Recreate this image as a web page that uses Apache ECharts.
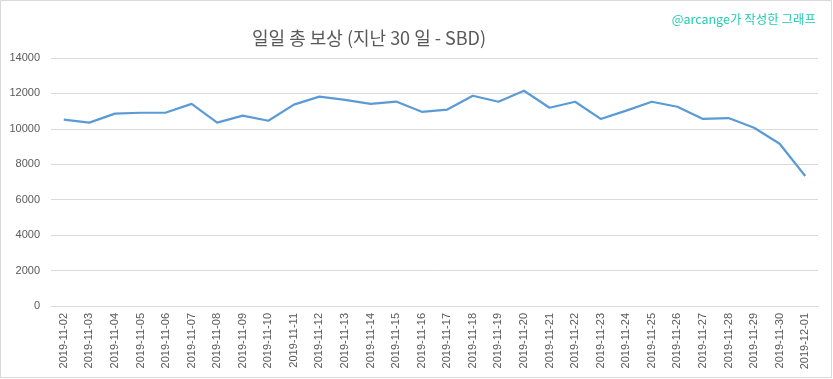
<!DOCTYPE html>
<html><head><meta charset="utf-8">
<script src="https://cdn.jsdelivr.net/npm/echarts@6/dist/echarts.min.js"></script>
<style>html,body{margin:0;padding:0;background:#fff}#c{width:833px;height:379px}</style>
</head><body><div id="c"></div>
<script>
const categories = ["2019-11-02","2019-11-03","2019-11-04","2019-11-05","2019-11-06","2019-11-07","2019-11-08","2019-11-09","2019-11-10","2019-11-11","2019-11-12","2019-11-13","2019-11-14","2019-11-15","2019-11-16","2019-11-17","2019-11-18","2019-11-19","2019-11-20","2019-11-21","2019-11-22","2019-11-23","2019-11-24","2019-11-25","2019-11-26","2019-11-27","2019-11-28","2019-11-29","2019-11-30","2019-12-01"];
const rewards = [10520,10350,10860,10910,10920,11410,10350,10750,10460,11370,11820,11640,11410,11540,10960,11090,11870,11530,12150,11190,11530,10560,11030,11530,11250,10560,10610,10060,9160,7340];
const yTicks = [0,2000,4000,6000,8000,10000,12000,14000];
const titleText = "일일 총 보상 (지난 30 일 - SBD)";
const watermark = "@arcange가 작성한 그래프";

const chart = echarts.init(document.getElementById('c'), null, {renderer:'canvas'});
chart.setOption({
  animation:false,
  backgroundColor:'#fff',
  title:[{text:titleText,left:247,top:24,textStyle:{fontFamily:'Noto Sans CJK KR',fontSize:18,fontWeight:'normal',color:'#595959'}},
         {text:watermark,right:12,top:8,textStyle:{fontFamily:'Noto Sans CJK KR',fontSize:12.5,fontWeight:'normal',color:'#22ccb4'}}],
  graphic:[{type:'rect',shape:{x:0.5,y:0.5,width:831,height:377},style:{fill:'none',stroke:'#d9d9d9',lineWidth:1},silent:true}],
  grid:{left:51,right:15,top:58,bottom:73,containLabel:false},
  xAxis:{type:'category',data:categories,boundaryGap:true,
    axisLine:{lineStyle:{color:'#d9d9d9'}},axisTick:{show:false},
    axisLabel:{rotate:90,interval:0,fontSize:11,color:'#595959',fontFamily:'Liberation Sans',margin:7}},
  yAxis:{type:'value',min:yTicks[0],max:yTicks[yTicks.length-1],interval:2000,
    axisLine:{show:false},axisTick:{show:false},
    splitLine:{lineStyle:{color:'#d9d9d9'}},
    axisLabel:{fontSize:11,color:'#595959',fontFamily:'Liberation Sans',margin:11,formatter:v=>String(v)}},
  series:[{type:'line',data:rewards,symbol:'none',lineStyle:{color:'#5b9bd5',width:2.2},itemStyle:{color:'#5b9bd5'}}]
});
</script></body></html>
